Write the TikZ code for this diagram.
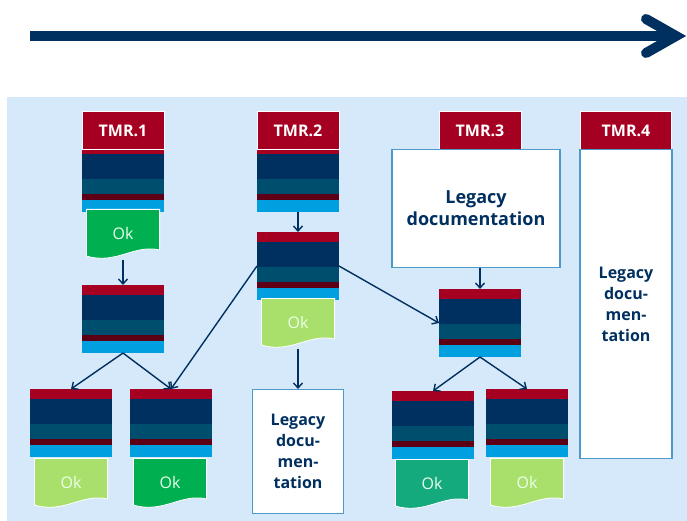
\documentclass[tikz,border=0pt]{standalone}
\usepackage{fontspec}
\setmainfont{Open Sans}
\usetikzlibrary{arrows.meta}

\definecolor{tmrred}{HTML}{A50021}
\definecolor{navy}{HTML}{00305F}
\definecolor{petrol}{HTML}{004E6E}
\definecolor{wine}{HTML}{5E0015}
\definecolor{sky}{HTML}{009FE0}
\definecolor{paleblue}{HTML}{D5E9FB}
\definecolor{okgreen}{HTML}{00B050}
\definecolor{oklime}{HTML}{A9E06B}
\definecolor{okteal}{HTML}{15A97E}
\definecolor{frame}{HTML}{4C9AC8}

% point at (#1,#2) pt from the top left corner of a path picture
\newcommand{\pp}[2]{([shift={(#1pt,-#2pt)}]path picture bounding box.north west)}

\begin{document}
\begin{tikzpicture}[
  x=1pt, y=-1pt,
  tmrhead/.style={fill=tmrred, draw=white, line width=0.8pt, text=white,
    minimum width=82pt, minimum height=38pt, inner sep=0pt,
    font=\bfseries\fontsize{16}{18}\selectfont},
  layers/.style={minimum width=82pt, minimum height=68pt, inner sep=0pt,
    outer sep=0pt, path picture={
      \fill[tmrred] \pp{0}{0}  rectangle \pp{82}{10};
      \fill[navy]   \pp{0}{10} rectangle \pp{82}{35};
      \fill[petrol] \pp{0}{35} rectangle \pp{82}{50};
      \fill[wine]   \pp{0}{50} rectangle \pp{82}{56};
      \fill[sky]    \pp{0}{56} rectangle \pp{82}{68};
    }},
  okdoc/.style={minimum width=74pt, minimum height=51pt, inner sep=0pt,
    outer sep=0pt, text=white!92!green, text depth=3pt,
    font=\fontsize{16}{18}\selectfont, path picture={
      \filldraw[fill=#1, draw=white, line width=0.8pt]
        \pp{0.4}{0.4} -- \pp{73.6}{0.4} -- \pp{73.6}{41}
        .. controls \pp{48}{35} and \pp{30}{56} .. \pp{0.4}{47} -- cycle;
    }},
  legacy/.style={fill=white, draw=frame, line width=1.2pt, inner sep=0pt,
    align=center, text=navy, font=\bfseries\fontsize{16}{21}\selectfont},
  link/.style={draw=navy, line width=1.4pt, -{Straight Barb[length=5pt,width=9pt]}},
  timeline/.style={draw=navy, line width=10pt},
]

\useasboundingbox (0,0) rectangle (687,521);

% time axis
\coordinate (t0) at (30,36);
\coordinate (t1) at (676,36);
\draw [timeline] (t0) -- (t1);
\draw [timeline, line cap=round, line join=miter] (646,19) -- (t1) -- (646,53);

\fill [paleblue] (7,97) rectangle (687,521);

% TMR.1
\node [layers, anchor=north] (a1) at (123,144) {};
\node [tmrhead, anchor=north] (h1) at (123,111) {TMR.1};
\node [okdoc=okgreen, anchor=north] (d1) at (123,209) {Ok};
\node [layers, anchor=north] (a2) at (123,285) {};
\node [layers, anchor=north] (a3) at (71,389) {};
\node [okdoc=oklime, anchor=north] (d3) at (71,458) {Ok};
\node [layers, anchor=north] (a4) at (171,389) {};
\node [okdoc=okgreen, anchor=north] (d4) at (170,458) {Ok};

% TMR.2
\node [layers, anchor=north] (b1) at (298,144) {};
\node [tmrhead, anchor=north] (h2) at (298,111) {TMR.2};
\node [layers, anchor=north] (b2) at (298,232) {};
\node [okdoc=oklime, anchor=north] (d2) at (298,298) {Ok};
\node [legacy, minimum width=91pt, minimum height=124pt, anchor=north]
  (lb) at (298,389) {Legacy\\docu-\\men-\\tation};

% TMR.3
\node [tmrhead, anchor=north] (h3) at (480,111) {TMR.3};
\node [legacy, minimum width=168pt, minimum height=118pt, anchor=north,
  font=\bfseries\fontsize{18}{22}\selectfont]
  (lc) at (476,149) {Legacy\\documentation};
\node [layers, anchor=north] (c2) at (480,289) {};
\node [layers, anchor=north] (c3) at (433,391) {};
\node [okdoc=okteal, anchor=north] (d5) at (432,459) {Ok};
\node [layers, anchor=north] (c4) at (527,389) {};
\node [okdoc=oklime, anchor=north] (d6) at (527,458) {Ok};

% TMR.4
\node [tmrhead, minimum width=91pt, anchor=north] (h4) at (626,111) {TMR.4};
\node [legacy, minimum width=92pt, minimum height=309pt, anchor=north]
  (ld) at (626,149) {Legacy\\docu-\\men-\\tation};

% connectors
\draw [link] (d1.south) -- (a2.north);
\draw [link] (a2.south) -- (a3.north);
\draw [link] (a2.south) -- (a4.north);
\draw [link] (b1.south) -- (b2.north);
\draw [link] (b2.west) -- (a4.north);
\draw [link] (d2.south) -- (lb.north);
\draw [link] (b2.east) -- (c2.west);
\draw [link] (lc.south -| c2.north) -- (c2.north);
\draw [link] (c2.south) -- (c3.north);
\draw [link] (c2.south) -- (c4.north);

\end{tikzpicture}
\end{document}
